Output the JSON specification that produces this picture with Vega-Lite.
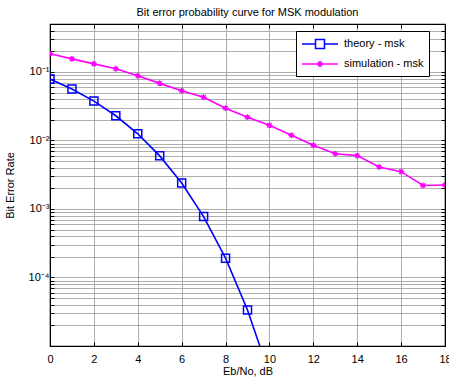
{
  "$schema": "https://vega.github.io/schema/vega-lite/v6.json",
  "width": 395,
  "height": 322,
  "autosize": "none",
  "padding": {"left": 50, "top": 24, "right": 4, "bottom": 37},
  "background": "white",
  "title": {"text": "Bit error probability curve for MSK modulation", "font": "Liberation Sans", "fontSize": 11, "fontWeight": "normal", "color": "black", "offset": 6},
  "config": {
    "view": {"stroke": "black", "strokeWidth": 1.2},
    "axis": {"labelFont": "Liberation Sans", "titleFont": "Liberation Sans", "labelFontSize": 11, "titleFontSize": 11, "titleFontWeight": "normal", "labelColor": "black", "titleColor": "black", "domainColor": "black", "tickColor": "black", "gridColor": "#9a9a9a", "gridWidth": 0.8},
    "legend": {"labelFont": "Liberation Sans"}
  },
  "data": {"values": [
    {"x": 0, "ber": 0.0786, "series": "theory - msk"},
    {"x": 1, "ber": 0.0563, "series": "theory - msk"},
    {"x": 2, "ber": 0.0375, "series": "theory - msk"},
    {"x": 3, "ber": 0.0229, "series": "theory - msk"},
    {"x": 4, "ber": 0.0125, "series": "theory - msk"},
    {"x": 5, "ber": 0.00595, "series": "theory - msk"},
    {"x": 6, "ber": 0.00239, "series": "theory - msk"},
    {"x": 7, "ber": 0.000773, "series": "theory - msk"},
    {"x": 8, "ber": 0.000191, "series": "theory - msk"},
    {"x": 9, "ber": 0.0000336, "series": "theory - msk"},
    {"x": 10, "ber": 0.00000387, "series": "theory - msk"},
    {"x": 0, "ber": 0.184, "series": "simulation - msk"},
    {"x": 1, "ber": 0.155, "series": "simulation - msk"},
    {"x": 2, "ber": 0.131, "series": "simulation - msk"},
    {"x": 3, "ber": 0.111, "series": "simulation - msk"},
    {"x": 4, "ber": 0.088, "series": "simulation - msk"},
    {"x": 5, "ber": 0.068, "series": "simulation - msk"},
    {"x": 6, "ber": 0.053, "series": "simulation - msk"},
    {"x": 7, "ber": 0.0427, "series": "simulation - msk"},
    {"x": 8, "ber": 0.0295, "series": "simulation - msk"},
    {"x": 9, "ber": 0.0218, "series": "simulation - msk"},
    {"x": 10, "ber": 0.0166, "series": "simulation - msk"},
    {"x": 11, "ber": 0.0119, "series": "simulation - msk"},
    {"x": 12, "ber": 0.0085, "series": "simulation - msk"},
    {"x": 13, "ber": 0.0064, "series": "simulation - msk"},
    {"x": 14, "ber": 0.0060, "series": "simulation - msk"},
    {"x": 15, "ber": 0.0041, "series": "simulation - msk"},
    {"x": 16, "ber": 0.0035, "series": "simulation - msk"},
    {"x": 17, "ber": 0.0022, "series": "simulation - msk"},
    {"x": 18, "ber": 0.00224, "series": "simulation - msk"}
  ]},
  "resolve": {"axis": {"x": "independent", "y": "independent"}},
  "layer": [
    {
      "transform": [{"filter": "datum.series === 'theory - msk'"}],
      "mark": {"type": "line", "color": "#0000ff", "strokeWidth": 1.6, "clip": true},
      "encoding": {
        "x": {"field": "x", "type": "quantitative", "scale": {"domain": [0, 18], "nice": false, "zero": false},
          "axis": {"title": "Eb/No, dB", "values": [0, 2, 4, 6, 8, 10, 12, 14, 16, 18], "grid": true, "tickSize": -4, "labelPadding": 11, "titlePadding": 1, "labelFlush": false}},
        "y": {"field": "ber", "type": "quantitative", "scale": {"type": "log", "domain": [0.00001, 0.5], "nice": false},
          "axis": {"title": "Bit Error Rate", "titlePadding": 13, "grid": true, "tickSize": -4, "labelPadding": 5,
            "values": [0.00001, 0.00002, 0.00003, 0.00004, 0.00005, 0.00006, 0.00007, 0.00008, 0.00009, 0.0001, 0.0002, 0.0003, 0.0004, 0.0005, 0.0006, 0.0007, 0.0008, 0.0009, 0.001, 0.002, 0.003, 0.004, 0.005, 0.006, 0.007, 0.008, 0.009, 0.01, 0.02, 0.03, 0.04, 0.05, 0.06, 0.07, 0.08, 0.09, 0.1, 0.2, 0.3, 0.4, 0.5],
            "labelExpr": "datum.value === 0.1 ? '10⁻¹' : datum.value === 0.01 ? '10⁻²' : datum.value === 0.001 ? '10⁻³' : datum.value === 0.0001 ? '10⁻⁴' : ''"}}
      }
    },
    {
      "transform": [{"filter": "datum.series === 'simulation - msk'"}],
      "mark": {"type": "line", "color": "#ff00ff", "strokeWidth": 1.6, "clip": true},
      "encoding": {
        "x": {"field": "x", "type": "quantitative", "scale": {"domain": [0, 18], "nice": false, "zero": false},
          "axis": {"orient": "top", "title": null, "labels": false, "grid": false, "tickSize": -4, "values": [0, 2, 4, 6, 8, 10, 12, 14, 16, 18]}},
        "y": {"field": "ber", "type": "quantitative", "scale": {"type": "log", "domain": [0.00001, 0.5], "nice": false},
          "axis": {"orient": "right", "title": null, "labels": false, "grid": false, "tickSize": -4,
            "values": [0.00001, 0.00002, 0.00003, 0.00004, 0.00005, 0.00006, 0.00007, 0.00008, 0.00009, 0.0001, 0.0002, 0.0003, 0.0004, 0.0005, 0.0006, 0.0007, 0.0008, 0.0009, 0.001, 0.002, 0.003, 0.004, 0.005, 0.006, 0.007, 0.008, 0.009, 0.01, 0.02, 0.03, 0.04, 0.05, 0.06, 0.07, 0.08, 0.09, 0.1, 0.2, 0.3, 0.4, 0.5]}}
      }
    },
    {
      "transform": [{"filter": "datum.series === 'theory - msk'"}],
      "mark": {"type": "point", "shape": "square", "size": 64, "filled": false, "color": "#0000ff", "strokeWidth": 1.5, "opacity": 1, "clip": true},
      "encoding": {
        "x": {"field": "x", "type": "quantitative", "scale": {"domain": [0, 18], "nice": false, "zero": false}, "axis": null},
        "y": {"field": "ber", "type": "quantitative", "scale": {"type": "log", "domain": [0.00001, 0.5], "nice": false}, "axis": null}
      }
    },
    {
      "transform": [{"filter": "datum.series === 'simulation - msk'"}],
      "mark": {"type": "point", "shape": "M-1,0H1M0,-1V1M-0.7,-0.7L0.7,0.7M-0.7,0.7L0.7,-0.7", "size": 36, "filled": false, "color": "#ff00ff", "strokeWidth": 1.3, "opacity": 1, "clip": true},
      "encoding": {
        "x": {"field": "x", "type": "quantitative", "scale": {"domain": [0, 18], "nice": false, "zero": false}, "axis": null},
        "y": {"field": "ber", "type": "quantitative", "scale": {"type": "log", "domain": [0.00001, 0.5], "nice": false}, "axis": null}
      }
    },
    {
      "transform": [{"filter": "datum.x < 0"}],
      "mark": {"type": "point", "filled": false, "strokeWidth": 1.5, "opacity": 1},
      "encoding": {
        "x": {"field": "x", "type": "quantitative", "scale": {"domain": [0, 18], "nice": false, "zero": false}, "axis": null},
        "y": {"field": "ber", "type": "quantitative", "scale": {"type": "log", "domain": [0.00001, 0.5], "nice": false}, "axis": null},
        "color": {"field": "series", "type": "nominal", "scale": {"domain": ["theory - msk", "simulation - msk"], "range": ["#0000ff", "#ff00ff"]},
          "legend": {"title": null, "orient": "none", "legendX": 246, "legendY": 7, "padding": 5, "strokeColor": "black", "fillColor": "white", "symbolSize": 196, "symbolStrokeWidth": 1.5, "labelOffset": 27, "labelFontSize": 11, "labelColor": "black", "rowPadding": 4}},
        "shape": {"field": "series", "type": "nominal", "scale": {"domain": ["theory - msk", "simulation - msk"], "range": ["M-1,0H0.93M2.21,0H4.14M0.93,-0.64H2.21V0.64H0.93Z", "M-1,0H4.14M1.57,-0.43V0.43M1.14,0H2M1.27,-0.3L1.87,0.3M1.27,0.3L1.87,-0.3"]},
          "legend": {"title": null, "orient": "none", "legendX": 246, "legendY": 7, "padding": 5, "strokeColor": "black", "fillColor": "white", "symbolSize": 196, "symbolStrokeWidth": 1.5, "labelOffset": 27, "labelFontSize": 11, "labelColor": "black", "rowPadding": 4}}
      }
    }
  ]
}
